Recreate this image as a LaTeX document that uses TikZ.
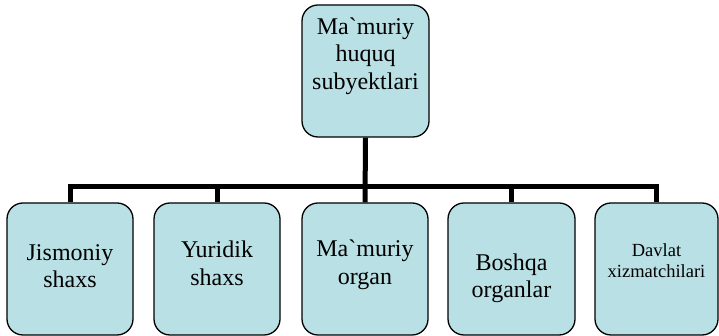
\documentclass[tikz,border=0pt]{standalone}
\usepackage{fontspec}
\setmainfont{Liberation Serif}
\usetikzlibrary{positioning}

\definecolor{boxfill}{RGB}{185,224,228}

\tikzset{
  subj/.style={draw, line width=1.3pt, rounded corners=16pt, fill=boxfill,
    minimum width=126pt, minimum height=132pt, inner sep=0pt},
  conn/.style={line width=5pt},
  lbl/.style={align=center, inner sep=0pt, font=\fontsize{24}{27.5}\selectfont},
  lblsmall/.style={align=center, inner sep=0pt, font=\fontsize{18.5}{20.5}\selectfont}
}

\begin{document}
\begin{tikzpicture}[x=1pt,y=1pt]
  \useasboundingbox (0,0) rectangle (719,336);
  % Top box
  \node[subj, minimum width=127pt] (root) at (365.5,265) {};
  % Bottom boxes
  \foreach \nm/\px/\bw in {b1/70/126, b2/217/126, b3/365/126, b4/511.5/127, b5/656.5/123}
    \node[subj, minimum width=\bw pt] (\nm) at (\px,67) {};
  % Labels
  \node[lbl] (rootTxt) at ([yshift=15pt]root.center) {Ma\textasciigrave muriy\\huquq\\subyektlari};
  \node[lbl] (b1Txt) at ([yshift=3pt]b1.center) {Jismoniy\\shaxs};
  \node[lbl] (b2Txt) at ([yshift=5.5pt]b2.center) {Yuridik\\shaxs};
  \node[lbl] (b3Txt) at ([yshift=4pt]b3.center) {Ma\textasciigrave muriy\\organ};
  \node[lbl] (b4Txt) at ([yshift=-9.5pt]b4.center) {Boshqa\\organlar};
  \node[lblsmall] (b5Txt) at ([yshift=8.5pt]b5.center) {Davlat\\xizmatchilari};
  % Connectors
  \draw[conn] (root.south) -- (b3.north);
  \draw[conn] (b1.north) -- ++(0,16) -| (b5.north);
  \draw[conn] (b2.north) -- ++(0,16);
  \draw[conn] (b4.north) -- ++(0,16);
\end{tikzpicture}
\end{document}
